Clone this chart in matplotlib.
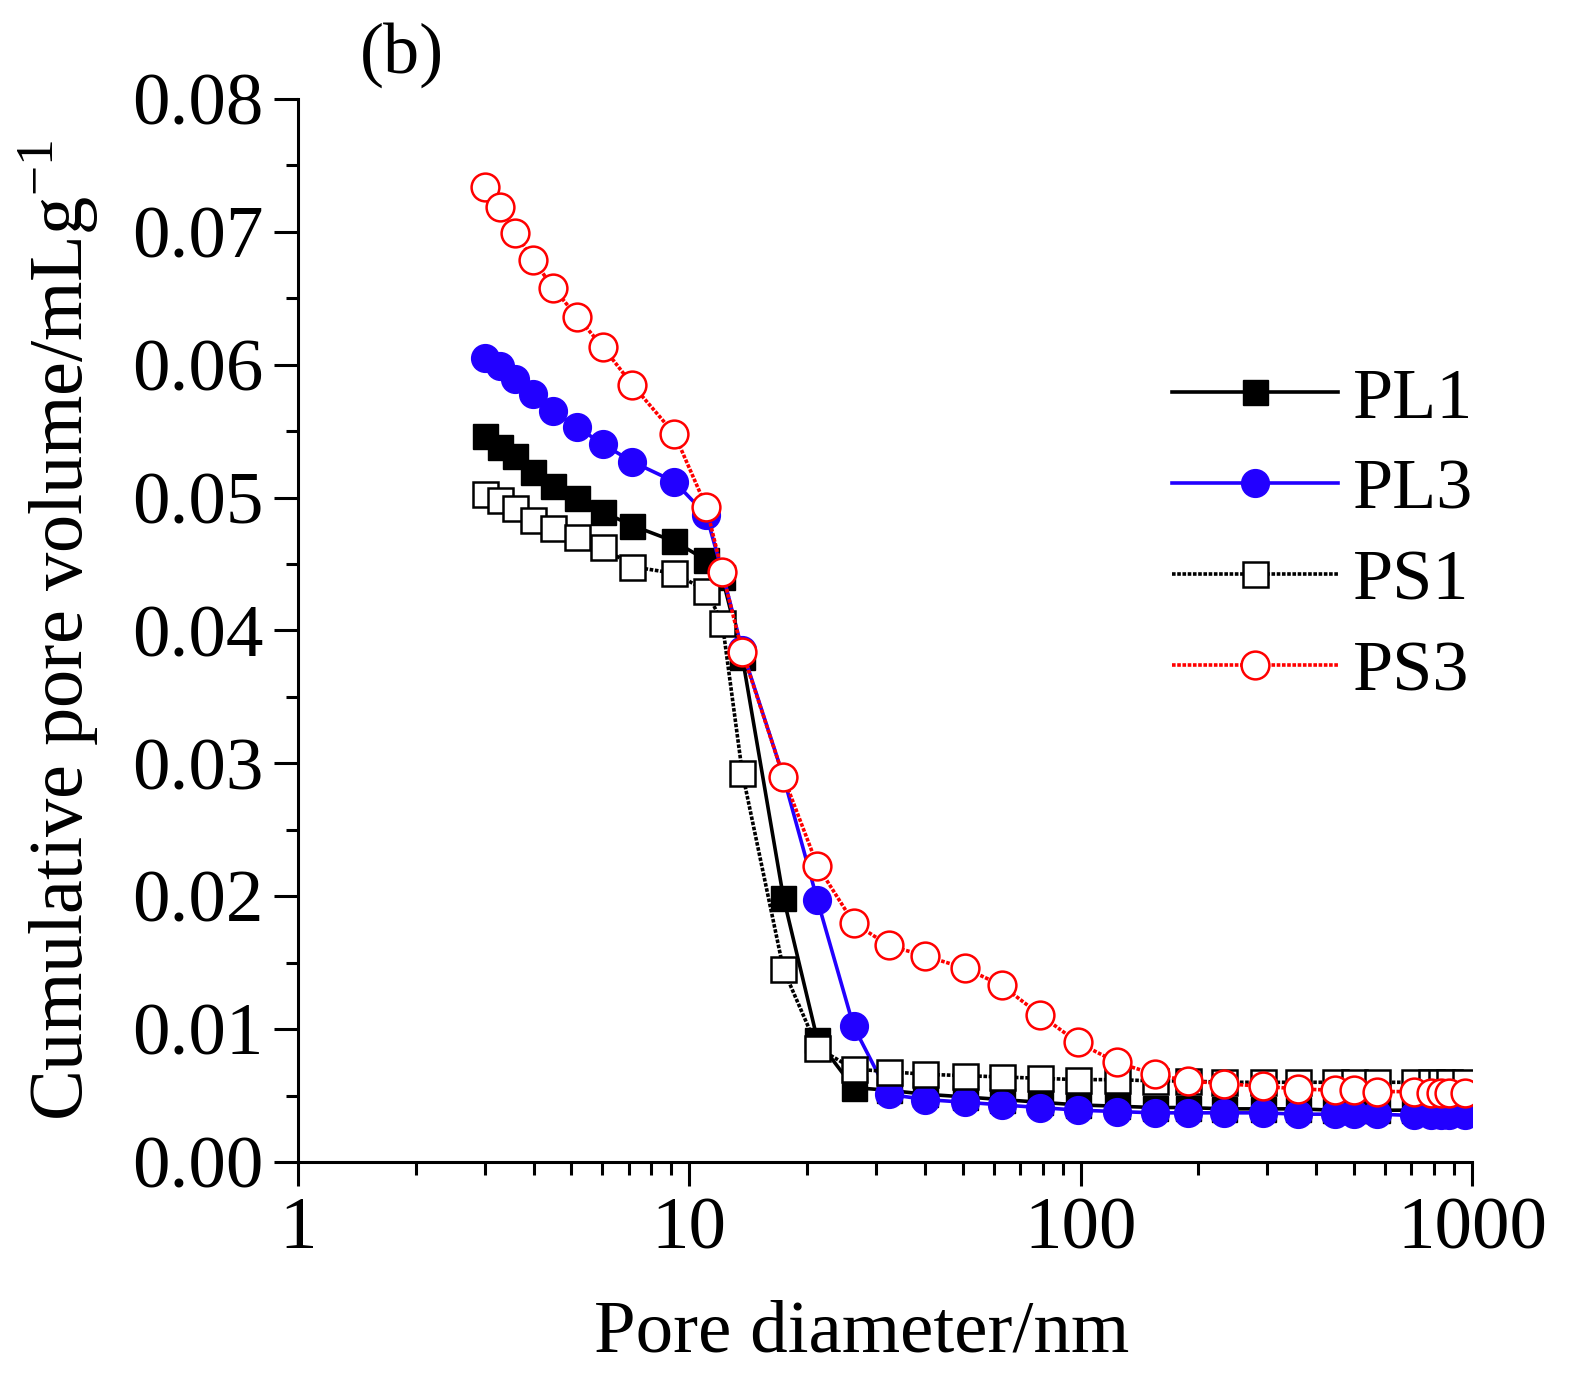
import numpy as np
import matplotlib
matplotlib.use("Agg")
import matplotlib.pyplot as plt
from matplotlib.ticker import MultipleLocator, LogLocator, NullFormatter, FixedLocator

plt.rcParams['font.family'] = ['Liberation Serif', 'DejaVu Serif']
plt.rcParams['mathtext.fontset'] = 'custom'
plt.rcParams['mathtext.rm'] = 'Liberation Serif'

# pore diameter (nm), shared by all samples
diam = [3.0, 3.29, 3.59, 3.99, 4.49, 5.17, 6.03, 7.15, 9.16, 11.05, 12.14, 13.66,
        17.4, 21.25, 26.3, 32.3, 40.1, 50.5, 62.8, 78.6, 98.3, 123.6, 154.6, 187.7,
        232, 292, 359, 446, 499, 571, 711, 785, 833, 873, 960]

pl1 = [0.0546, 0.0538, 0.0531, 0.0519, 0.0509, 0.0500, 0.0489, 0.0479, 0.0467, 0.0453,
       0.0440, 0.0380, 0.0199, 0.0092, 0.0056, 0.0054, 0.0051, 0.0049, 0.0047, 0.0045,
       0.0043, 0.0042, 0.0041, 0.0041, 0.0040, 0.0040, 0.0040, 0.0039, 0.0039, 0.0039,
       0.0039, 0.0039, 0.0039, 0.0039, 0.0039]

pl3 = [0.0605, 0.0599, 0.0589, 0.0578, 0.0565, 0.0553, 0.0540, 0.0527, 0.0512, 0.0487,
       0.0444, 0.0385, 0.0290, 0.0197, 0.0102, 0.0051, 0.0047, 0.0045, 0.0043, 0.0041,
       0.0039, 0.0038, 0.0037, 0.0037, 0.0037, 0.0037, 0.0036, 0.0036, 0.0036, 0.0036,
       0.0035, 0.0035, 0.0035, 0.0035, 0.0035]

ps1 = [0.0503, 0.0498, 0.0492, 0.0483, 0.0477, 0.0470, 0.0463, 0.0448, 0.0443, 0.0430,
       0.0406, 0.0293, 0.0145, 0.0086, 0.0070, 0.0068, 0.0066, 0.0065, 0.0064, 0.0063,
       0.0062, 0.0062, 0.0061, 0.0061, 0.0060, 0.0060, 0.0060, 0.0060, 0.0060, 0.0060,
       0.0060, 0.0060, 0.0060, 0.0060, 0.0060]

ps3 = [0.0734, 0.0719, 0.0699, 0.0679, 0.0658, 0.0636, 0.0613, 0.0585, 0.0548, 0.0493,
       0.0444, 0.0384, 0.0290, 0.0223, 0.0180, 0.0163, 0.0155, 0.0146, 0.0133, 0.0111,
       0.0090, 0.0075, 0.0066, 0.0061, 0.0059, 0.0057, 0.0055, 0.0054, 0.0054, 0.0053,
       0.0053, 0.0052, 0.0052, 0.0052, 0.0052]

fig = plt.figure(figsize=(15.73, 13.84), dpi=100)
ax = fig.add_axes([0.1894, 0.1604, 0.7464, 0.7681])

ms_sq = 18
ms_ci = 20
lw = 2.6
dots = (0, (1.0, 0.45))
ax.plot(diam, pl1, color='black', lw=lw, marker='s', ms=ms_sq, mfc='black', mec='black', label='PL1')
ax.plot(diam, pl3, color='#2200ff', lw=lw, marker='o', ms=ms_ci, mfc='#2200ff', mec='#2200ff', label='PL3')
ax.plot(diam, ps1, color='black', lw=lw, ls=dots, marker='s', ms=ms_sq, mfc='white', mec='black',
        mew=1.8, label='PS1')
ax.plot(diam, ps3, color='red', lw=lw, ls=dots, marker='o', ms=ms_ci, mfc='white', mec='red',
        mew=1.8, label='PS3')

ax.set_xscale('log')
ax.set_xlim(1, 1000)
ax.set_ylim(0, 0.08)
ax.xaxis.set_major_locator(FixedLocator([1, 10, 100, 1000]))
ax.set_xticklabels(['1', '10', '100', '1000'])
ax.xaxis.set_minor_locator(LogLocator(base=10, subs=np.arange(2, 10)))
ax.xaxis.set_minor_formatter(NullFormatter())
ax.yaxis.set_major_locator(MultipleLocator(0.01))
ax.yaxis.set_minor_locator(MultipleLocator(0.005))
ax.yaxis.set_major_formatter(matplotlib.ticker.FormatStrFormatter('%.2f'))

for s in ['top', 'right']:
    ax.spines[s].set_visible(False)
for s in ['left', 'bottom']:
    ax.spines[s].set_linewidth(2.2)

ax.tick_params(which='major', direction='out', length=17, width=2.2, labelsize=54, pad=8)
ax.tick_params(which='minor', direction='out', length=9, width=2.2)

ax.set_xlabel('Pore diameter/nm', fontsize=54)
ax.xaxis.set_label_coords(0.48, -0.13)
ax.set_ylabel('Cumulative pore volume/mLg$^{-1}$', fontsize=55, labelpad=22)

fig.text(0.229, 0.960, '(b)', fontsize=52, ha='left', va='center')

leg = ax.legend(loc='upper left', bbox_to_anchor=(0.72, 0.775), frameon=False, fontsize=52,
                handlelength=2.3, handletextpad=0.2, labelspacing=0.35, borderaxespad=0)

fig.savefig('out.png', dpi=100)
